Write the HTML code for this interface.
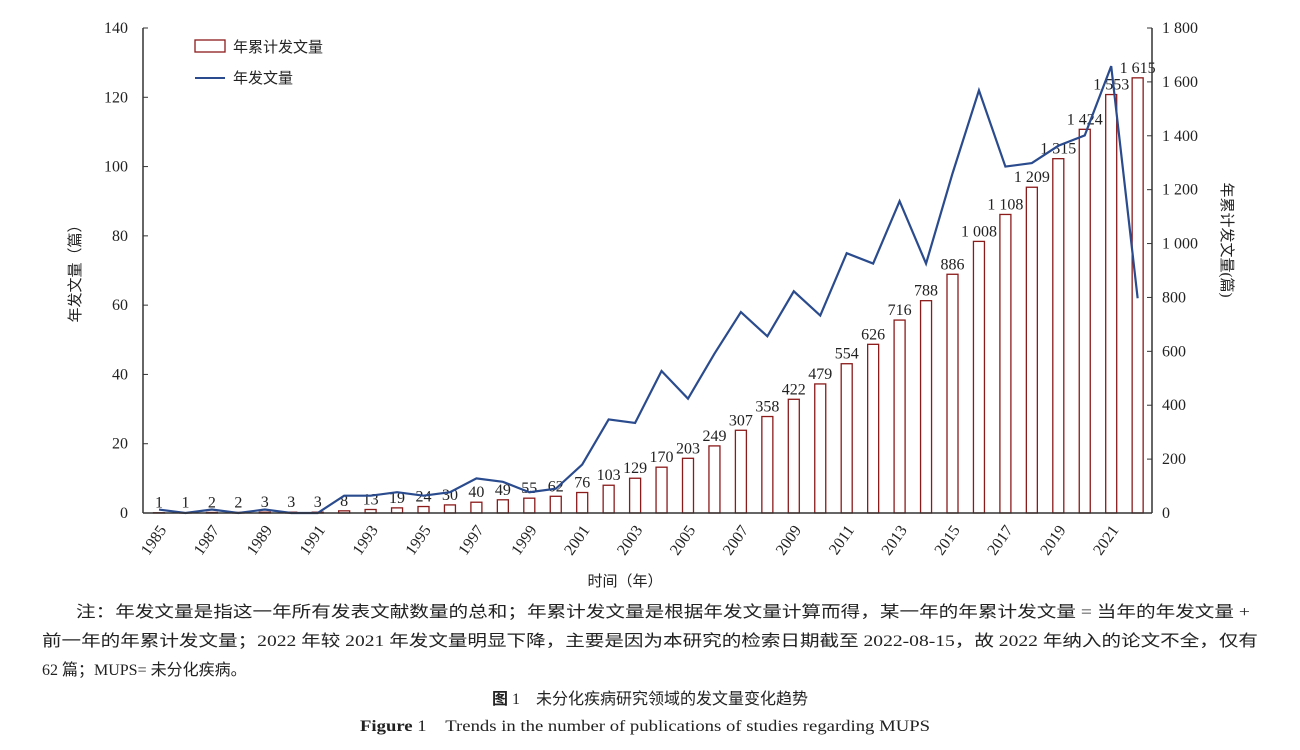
<!DOCTYPE html>
<html><head><meta charset="utf-8"><style>
body{margin:0;background:#fff;width:1300px;height:750px;overflow:hidden}
svg{position:absolute;left:0;top:0}
text{font-family:"Liberation Serif","Noto Serif CJK SC",serif;fill:#222}
.cj{font-family:"Liberation Serif","Noto Sans CJK SC",sans-serif}
</style></head><body>
<svg id="s" width="1300" height="750" xmlns="http://www.w3.org/2000/svg"></svg>
<script>
const ann=[1,0,1,0,1,0,0,5,5,6,5,6,10,9,6,7,14,27,26,41,33,46,58,51,64,57,75,72,90,72,98,122,100,101,106,109,129,62];
let cum=[],c=0;ann.forEach(a=>{c+=a;cum.push(c)});
const X=i=>159+i*26.45, B=513, yl=v=>B-v*485/140, yr=v=>B-v*485/1800;
let h='';
cum.forEach((v,i)=>{const t=yr(v);h+=`<rect x="${X(i)-5.5}" y="${t}" width="11" height="${B-t}" fill="#fff" stroke="#8b1a1a" stroke-width="1.3"/>`;
const s=v>=1000?String(v).replace(/(\d)(\d{3})$/,'$1 $2'):v;
h+=`<text x="${X(i)}" y="${Math.min(t-5,508)}" font-size="16" text-anchor="middle">${s}</text>`;});
h+=`<polyline fill="none" stroke="#2a4b8d" stroke-width="2.2" points="${ann.map((a,i)=>X(i)+','+yl(a)).join(' ')}"/>`;
h+=`<line x1="143" y1="28" x2="143" y2="${B}" stroke="#333" stroke-width="1.5"/><line x1="1152" y1="28" x2="1152" y2="${B}" stroke="#333" stroke-width="1.5"/><line x1="143" y1="${B}" x2="1152" y2="${B}" stroke="#333" stroke-width="1.5"/>`;
for(let v=0;v<=140;v+=20){const y=yl(v);h+=`<line x1="143" y1="${y}" x2="148" y2="${y}" stroke="#333"/><text x="128" y="${y+5}" font-size="16" text-anchor="end">${v}</text>`;}
for(let v=0;v<=1800;v+=200){const y=yr(v);const s=v>=1000?String(v).replace(/(\d)(\d{3})$/,'$1 $2'):v;h+=`<line x1="1147" y1="${y}" x2="1152" y2="${y}" stroke="#333"/><text x="1162" y="${y+5}" font-size="16">${s}</text>`;}
for(let i=0;i<38;i+=2){h+=`<text transform="translate(${X(i)+8},530) rotate(-55)" font-size="16" text-anchor="end">${1985+i}</text>`;}
h+=`<rect x="195" y="40" width="30" height="12" fill="#fff" stroke="#8b1a1a" stroke-width="1.3"/><text class="cj" x="233" y="52" font-size="15">年累计发文量</text>`;
h+=`<line x1="195" y1="78" x2="225" y2="78" stroke="#2a4b8d" stroke-width="2"/><text class="cj" x="233" y="83" font-size="15">年发文量</text>`;
h+=`<text class="cj" transform="translate(80,270) rotate(-90)" font-size="15" text-anchor="middle">年发文量（篇）</text>`;
h+=`<text class="cj" transform="translate(1222,240) rotate(90)" font-size="15" text-anchor="middle">年累计发文量(篇)</text>`;
h+=`<text class="cj" x="625" y="586" font-size="15" text-anchor="middle">时间（年）</text>`;
h+=`<text class="cj" x="76" y="617" font-size="16" textLength="1174" lengthAdjust="spacingAndGlyphs">注：年发文量是指这一年所有发表文献数量的总和；年累计发文量是根据年发文量计算而得，某一年的年累计发文量 = 当年的年发文量 +</text>`;
h+=`<text class="cj" x="42" y="646" font-size="16" textLength="1216" lengthAdjust="spacingAndGlyphs">前一年的年累计发文量；2022 年较 2021 年发文量明显下降，主要是因为本研究的检索日期截至 2022-08-15，故 2022 年纳入的论文不全，仅有</text>`;
h+=`<text class="cj" x="42" y="675" font-size="16">62 篇；MUPS= 未分化疾病。</text>`;
h+=`<text class="cj" x="650" y="704" font-size="16" text-anchor="middle"><tspan font-weight="bold">图</tspan> 1　未分化疾病研究领域的发文量变化趋势</text>`;
h+=`<text x="645" y="731" font-size="16" text-anchor="middle" textLength="570" lengthAdjust="spacingAndGlyphs"><tspan font-weight="bold">Figure</tspan> 1　Trends in the number of publications of studies regarding MUPS</text>`;
document.getElementById('s').innerHTML=h;
</script>
</body></html>
